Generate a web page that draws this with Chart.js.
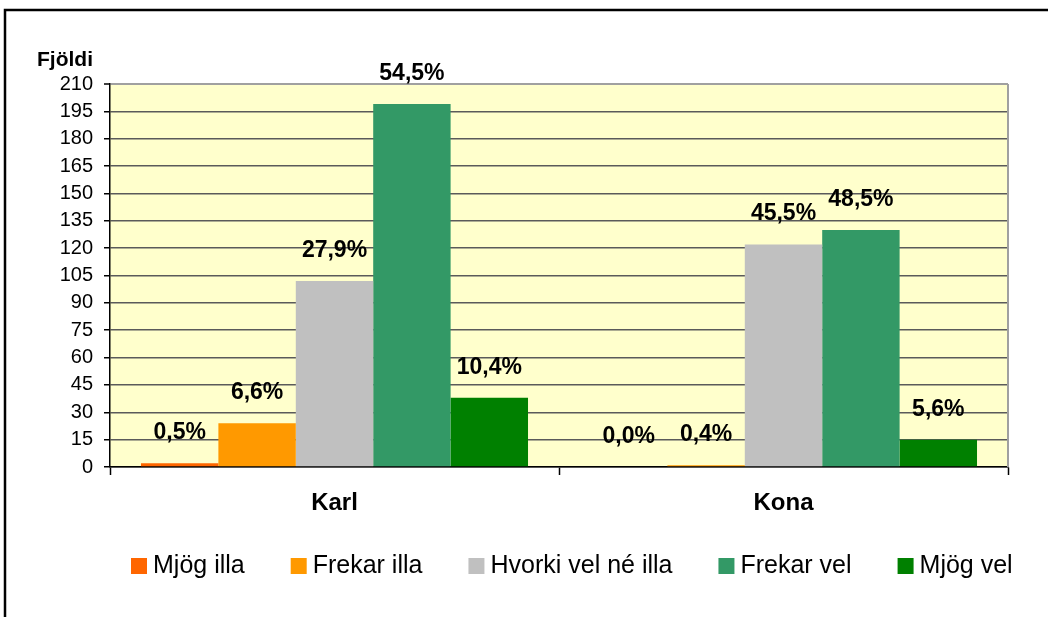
<!DOCTYPE html>
<html>
<head>
<meta charset="utf-8">
<script src="https://cdn.jsdelivr.net/npm/chart.js@4/dist/chart.umd.min.js"></script>
<style>
  body { margin: 0; background: #fff; }
  canvas { display: block; }
</style>
</head>
<body>
<canvas id="chart" width="1048" height="617"></canvas>
<script>
/* Data */

const categories = ['Karl', 'Kona']
const seriesNames = ['Mjög illa', 'Frekar illa', 'Hvorki vel né illa', 'Frekar vel', 'Mjög vel']
const seriesColors = ['#FF6600', '#FF9900', '#C0C0C0', '#339966', '#008000']

const mjogIlla = [2, 0]
const frekarIlla = [24, 1]
const hvorki = [102, 122]
const frekarVel = [199, 130]
const mjogVel = [38, 15]

const mjogIllaPct = ['0,5%', '0,0%']
const frekarIllaPct = ['6,6%', '0,4%']
const hvorkiPct = ['27,9%', '45,5%']
const frekarVelPct = ['54,5%', '48,5%']
const mjogVelPct = ['10,4%', '5,6%']

const yTicks = [0, 15, 30, 45, 60, 75, 90, 105, 120, 135, 150, 165, 180, 195, 210]
const yTitle = 'Fjöldi'

const values = [mjogIlla, frekarIlla, hvorki, frekarVel, mjogVel]
const percents = [mjogIllaPct, frekarIllaPct, hvorkiPct, frekarVelPct, mjogVelPct]

const font = '"Liberation Sans", Arial, sans-serif'

/* Plugins */

const frame = {
  id: 'frame',
  beforeDraw(chart) {
    const { ctx, chartArea } = chart
    ctx.save()
    ctx.fillStyle = '#FFFFCC'
    ctx.fillRect(chartArea.left, chartArea.top, chartArea.right - chartArea.left, chartArea.bottom - chartArea.top)
    ctx.restore()
  },
  afterDraw(chart) {
    const { ctx, chartArea } = chart
    ctx.save()
    // plot area right edge
    ctx.strokeStyle = '#a0a0a0'
    ctx.lineWidth = 2
    ctx.beginPath()
    ctx.moveTo(chartArea.right, chartArea.top)
    ctx.lineTo(chartArea.right, chartArea.bottom)
    ctx.stroke()
    // outer border
    ctx.strokeStyle = '#000'
    ctx.lineWidth = 2.5
    ctx.strokeRect(5, 10, 1200, 800)
    // axis title
    ctx.fillStyle = '#000'
    ctx.font = 'bold 21px ' + font
    ctx.textBaseline = 'alphabetic'
    ctx.fillText(yTitle, 37, 66)
    ctx.restore()
  }
}

const barLabels = {
  id: 'barLabels',
  afterDatasetsDraw(chart) {
    const { ctx } = chart
    ctx.save()
    ctx.fillStyle = '#000'
    ctx.font = 'bold 23px ' + font
    ctx.textAlign = 'center'
    ctx.textBaseline = 'alphabetic'
    chart.data.datasets.forEach((ds, i) => {
      chart.getDatasetMeta(i).data.forEach((bar, j) => {
        ctx.fillText(percents[i][j], bar.x, bar.y - 24)
      })
    })
    ctx.restore()
  }
}

const legendBar = {
  id: 'legendBar',
  afterDraw(chart) {
    const { ctx } = chart
    ctx.save()
    ctx.font = '25px ' + font
    ctx.textBaseline = 'alphabetic'
    let x = 131
    seriesNames.forEach((name, i) => {
      ctx.fillStyle = seriesColors[i]
      ctx.fillRect(x, 558, 16, 16)
      ctx.fillStyle = '#000'
      ctx.fillText(name, x + 22, 573)
      x += 22 + ctx.measureText(name).width + 46
    })
    ctx.restore()
  }
}

/* Chart */

const ctx = document.querySelector('#chart').getContext('2d')
const myChart = new Chart(ctx, {
  type: 'bar',
  data: {
    labels: categories,
    datasets: seriesNames.map((name, i) => ({
      label: name,
      data: values[i],
      backgroundColor: seriesColors[i],
      borderWidth: 0,
      categoryPercentage: 0.862,
      barPercentage: 1
    }))
  },
  options: {
    responsive: false,
    animation: false,
    layout: { padding: { top: 84, right: 40, left: 0, bottom: 0 } },
    plugins: {
      legend: { display: false },
      tooltip: { enabled: false }
    },
    scales: {
      x: {
        afterFit(scale) { scale.height = 150 },
        grid: {
          offset: true,
          drawOnChartArea: false,
          drawTicks: true,
          tickLength: 8,
          tickColor: '#000',
          tickWidth: 1.5
        },
        border: { color: '#000', width: 1.5 },
        ticks: {
          color: '#000',
          padding: 14,
          font: { family: font, size: 24, weight: 'bold' }
        }
      },
      y: {
        min: 0,
        max: 210,
        afterFit(scale) { scale.width = 110 },
        afterBuildTicks(scale) { scale.ticks = yTicks.map(v => ({ value: v })) },
        grid: {
          color: c => (c.tick && c.tick.value === 210) ? '#a0a0a0' : '#5a5a5a',
          lineWidth: c => (c.tick && c.tick.value === 210) ? 2 : 1.5,
          tickColor: '#000',
          tickLength: 6,
          tickWidth: 1.5
        },
        border: { color: '#000', width: 1.5 },
        ticks: {
          color: '#000',
          padding: 11,
          font: { family: font, size: 20 }
        }
      }
    }
  },
  plugins: [frame, barLabels, legendBar]
})
</script>
</body>
</html>
